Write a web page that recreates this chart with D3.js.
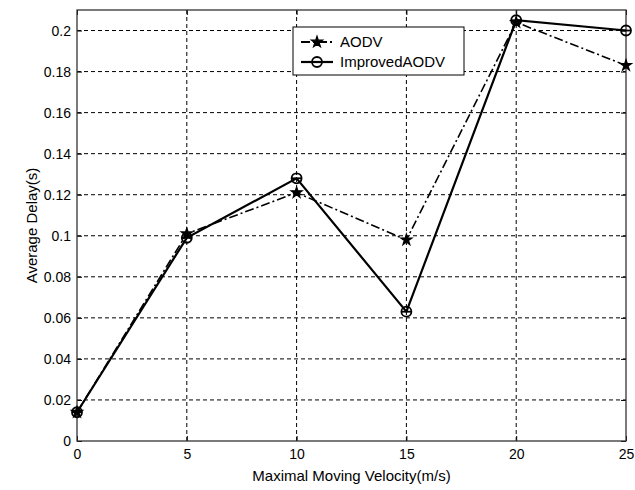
<!DOCTYPE html>
<html><head><meta charset="utf-8">
<script src="https://cdn.jsdelivr.net/npm/d3@7"></script>
<style>body{margin:0;background:#fff}svg{display:block}text{font-family:"Liberation Sans",Arial,sans-serif}</style>
</head><body>
<svg id="c" width="635" height="490"></svg>
<script>
const velocity = [0, 5, 10, 15, 20, 25];
const aodv = [0.014, 0.101, 0.121, 0.098, 0.204, 0.183];
const improvedAodv = [0.014, 0.099, 0.128, 0.063, 0.205, 0.200];
const xTicks = [0, 5, 10, 15, 20, 25];
const yTicks = [0, 0.02, 0.04, 0.06, 0.08, 0.1, 0.12, 0.14, 0.16, 0.18, 0.2];
const seriesNames = ["AODV", "ImprovedAODV"];

const svg = d3.select("#c");
const L = 77, R = 626, T = 10, B = 441;
const x = d3.scaleLinear().domain([0, 25]).range([L, R]);
const y = d3.scaleLinear().domain([0, 0.21]).range([B, T]);

// grid
const grid = svg.append("g").attr("stroke", "#000").attr("stroke-width", 1).attr("stroke-dasharray", "4,3");
xTicks.slice(1, -1).forEach(v => grid.append("line").attr("x1", x(v)).attr("x2", x(v)).attr("y1", T).attr("y2", B));
yTicks.slice(1).forEach(v => grid.append("line").attr("x1", L).attr("x2", R).attr("y1", y(v)).attr("y2", y(v)));

// axes
const fmt = d => d === 0 ? "0" : String(+d.toFixed(2));
svg.append("g").attr("transform", `translate(0,${B})`)
  .call(d3.axisBottom(x).tickValues(xTicks).tickSize(-5).tickPadding(8).tickFormat(d3.format("d")))
  .call(g => { g.select(".domain").remove(); g.selectAll("text").attr("font-size", 14).attr("fill", "#000"); g.selectAll("line").attr("stroke", "#000"); });
svg.append("g").attr("transform", `translate(${L},0)`)
  .call(d3.axisLeft(y).tickValues(yTicks).tickSize(-5).tickPadding(6).tickFormat(fmt))
  .call(g => { g.select(".domain").remove(); g.selectAll("text").attr("font-size", 14).attr("fill", "#000"); g.selectAll("line").attr("stroke", "#000"); });
svg.append("g").attr("transform", `translate(0,${T})`)
  .call(d3.axisTop(x).tickValues(xTicks).tickSize(-5).tickFormat(""))
  .call(g => { g.select(".domain").remove(); g.selectAll("line").attr("stroke", "#000"); });
svg.append("g").attr("transform", `translate(${R},0)`)
  .call(d3.axisRight(y).tickValues(yTicks).tickSize(-5).tickFormat(""))
  .call(g => { g.select(".domain").remove(); g.selectAll("line").attr("stroke", "#000"); });
svg.append("rect").attr("x", L).attr("y", T).attr("width", R - L).attr("height", B - T)
  .attr("fill", "none").attr("stroke", "#333").attr("stroke-width", 1.3);

// axis titles
svg.append("text").attr("x", (L + R) / 2).attr("y", 481).attr("text-anchor", "middle").attr("font-size", 15).text("Maximal Moving Velocity(m/s)");
svg.append("text").attr("transform", `translate(37,${(T + B) / 2}) rotate(-90)`).attr("text-anchor", "middle").attr("font-size", 15).text("Average Delay(s)");

// lines
const line = d3.line().x((d, i) => x(velocity[i])).y(d => y(d));
svg.append("path").datum(aodv).attr("d", line).attr("fill", "none").attr("stroke", "#000").attr("stroke-width", 1.6).attr("stroke-dasharray", "9,3,2,3");
svg.append("path").datum(improvedAodv).attr("d", line).attr("fill", "none").attr("stroke", "#000").attr("stroke-width", 2.2);

const star = d3.symbol().type(d3.symbolStar).size(38);
function drawStar(g, cx, cy) {
  g.append("path").attr("d", star()).attr("transform", `translate(${cx},${cy})`).attr("fill", "#000").attr("stroke", "#000").attr("stroke-width", 1.2);
}
function drawCircle(g, cx, cy) {
  g.append("circle").attr("cx", cx).attr("cy", cy).attr("r", 5).attr("fill", "none").attr("stroke", "#000").attr("stroke-width", 1.8);
  g.append("line").attr("x1", cx - 5).attr("x2", cx + 5).attr("y1", cy).attr("y2", cy).attr("stroke", "#000").attr("stroke-width", 1.8);
}
const mk = svg.append("g");
aodv.forEach((d, i) => drawStar(mk, x(velocity[i]), y(d)));
improvedAodv.forEach((d, i) => drawCircle(mk, x(velocity[i]), y(d)));

// legend
const lg = svg.append("g");
lg.append("rect").attr("x", 293).attr("y", 27).attr("width", 171).attr("height", 48).attr("fill", "#fff").attr("stroke", "#000").attr("stroke-width", 1);
lg.append("line").attr("x1", 301).attr("x2", 333).attr("y1", 42).attr("y2", 42).attr("stroke", "#000").attr("stroke-width", 1.8).attr("stroke-dasharray", "9,3,2,3");
drawStar(lg, 317, 42);
lg.append("line").attr("x1", 301).attr("x2", 333).attr("y1", 62).attr("y2", 62).attr("stroke", "#000").attr("stroke-width", 2.2);
drawCircle(lg, 317, 62);
lg.append("text").attr("x", 340).attr("y", 47).attr("font-size", 15).text(seriesNames[0]);
lg.append("text").attr("x", 340).attr("y", 67).attr("font-size", 15).text(seriesNames[1]);
</script>
</body></html>
